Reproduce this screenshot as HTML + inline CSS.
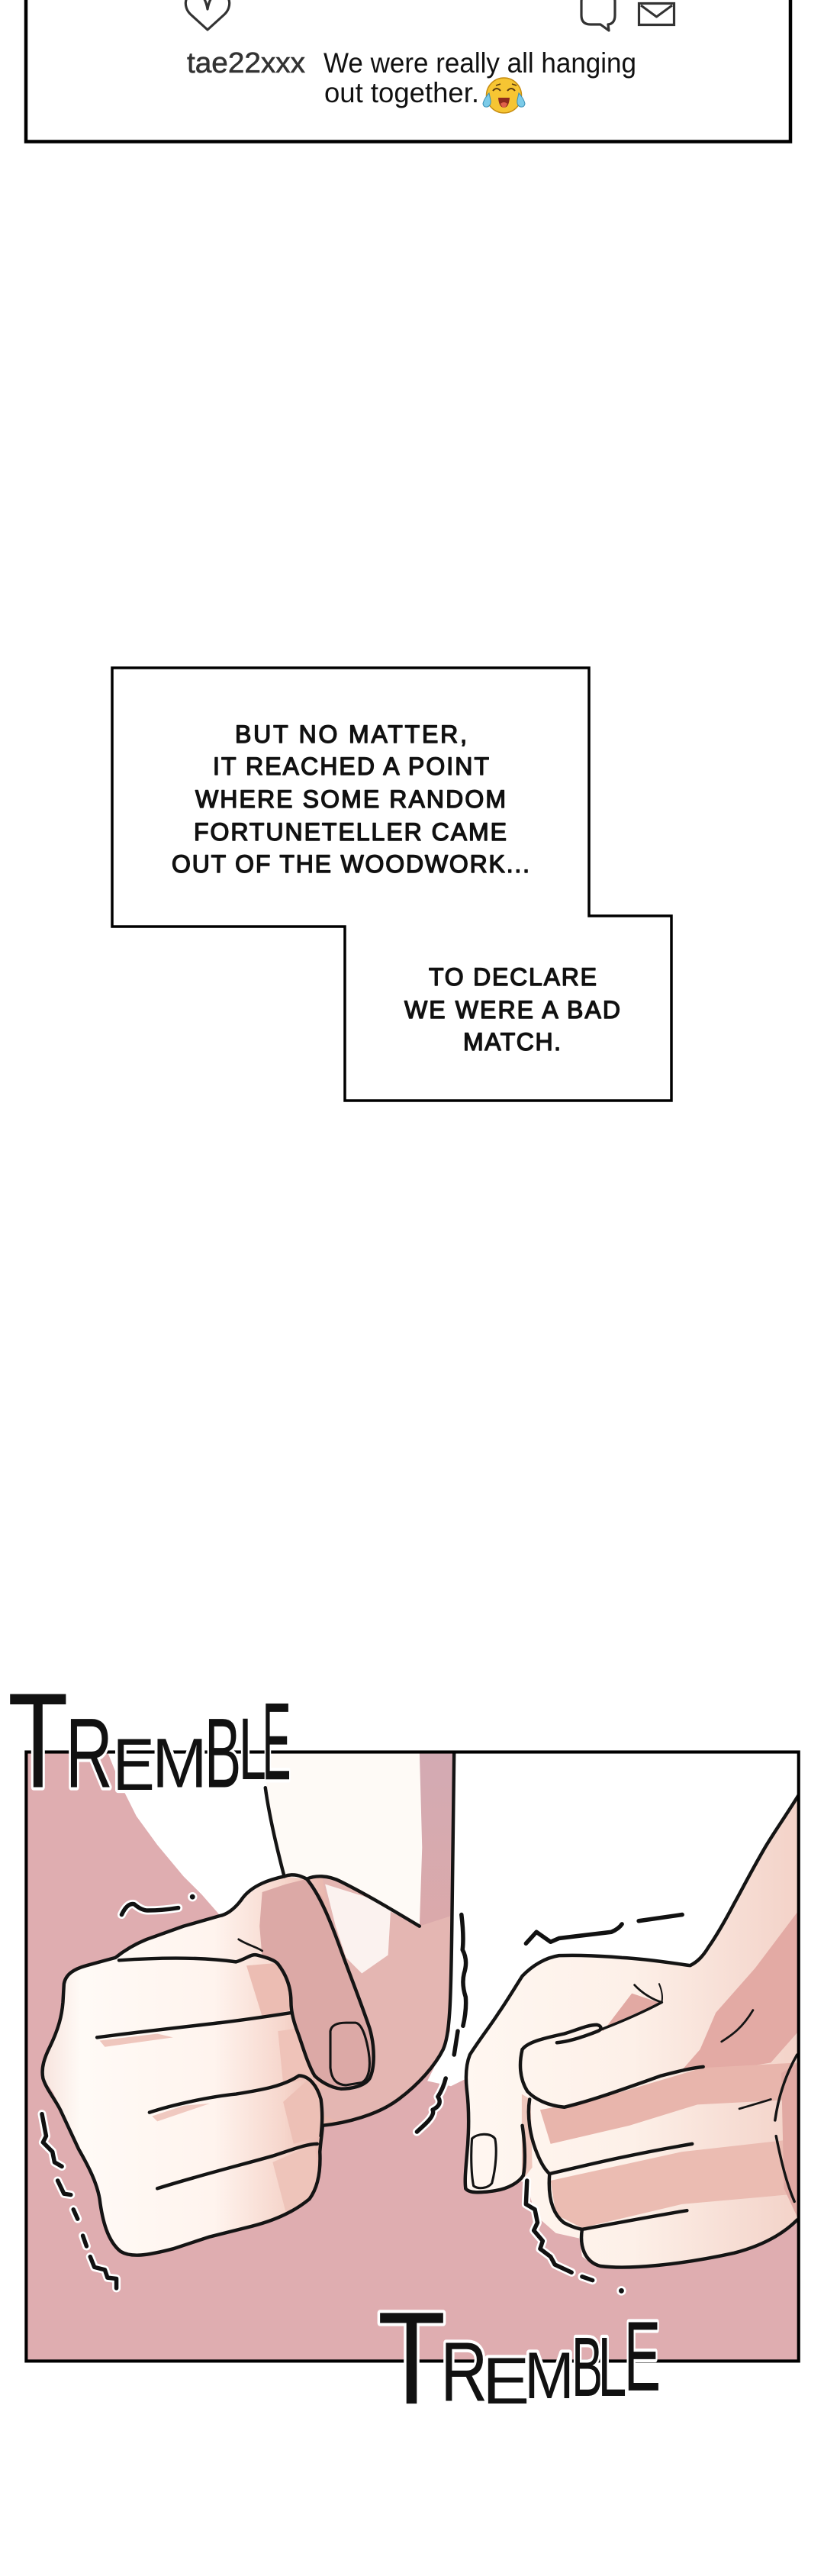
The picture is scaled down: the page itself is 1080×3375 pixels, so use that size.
<!DOCTYPE html>
<html>
<head>
<meta charset="utf-8">
<style>
html,body{margin:0;padding:0;background:#fff;}
body{width:1080px;height:3375px;overflow:hidden;position:relative;}
svg{position:absolute;left:0;top:0;display:block;}
</style>
</head>
<body>
<svg width="1080" height="3375" viewBox="0 0 1080 3375" xmlns="http://www.w3.org/2000/svg" font-family="'Liberation Sans', sans-serif">
<defs>
  <linearGradient id="fistg" x1="90" y1="0" x2="620" y2="0" gradientUnits="userSpaceOnUse">
    <stop offset="0" stop-color="#f8e6e0"/>
    <stop offset="0.12" stop-color="#fffaf6"/>
    <stop offset="0.6" stop-color="#fff4ee"/>
    <stop offset="0.85" stop-color="#f6d6cc"/>
    <stop offset="1" stop-color="#e9b7ae"/>
  </linearGradient>
  <linearGradient id="rhg" x1="890" y1="0" x2="1523" y2="0" gradientUnits="userSpaceOnUse">
    <stop offset="0" stop-color="#fff7f1"/>
    <stop offset="0.5" stop-color="#fdf0e8"/>
    <stop offset="1" stop-color="#f3d2c8"/>
  </linearGradient>
  <linearGradient id="mauveg" x1="0" y1="168" x2="0" y2="560" gradientUnits="userSpaceOnUse">
    <stop offset="0" stop-color="#d3aab3"/>
    <stop offset="1" stop-color="#dca9a9"/>
  </linearGradient>
  <clipPath id="pc"><rect x="50" y="168" width="1473" height="1161"/></clipPath>
</defs>

<!-- ===== TOP POST PANEL ===== -->
<path d="M34,-5 V185.5 H1036 V-5" fill="none" stroke="#000" stroke-width="4.5"/>
<!-- heart -->
<path d="M272,39 L250,19 C239,9 242,-9 256,-9 C265,-9 270,0 272,12 C274,0 279,-9 288,-9 C302,-9 305,9 294,19 Z" fill="none" stroke="#333" stroke-width="3.2" stroke-linejoin="round"/>
<!-- chat bubble -->
<path d="M774,-10 H794 Q806,-10 806,2 V20 Q806,31 797,32 L798,40 L787,32 H774 Q762,32 762,20 V2 Q762,-10 774,-10 Z" fill="none" stroke="#333" stroke-width="3.2" stroke-linejoin="round"/>
<!-- mail -->
<rect x="837.5" y="4.5" width="46" height="28" fill="none" stroke="#333" stroke-width="3.2"/>
<path d="M840,7 L860.5,22 L881,7" fill="none" stroke="#333" stroke-width="3" stroke-linejoin="round"/>
<!-- post text -->
<text x="245" y="95" font-size="38" fill="#333" stroke="#333" stroke-width="0.6" textLength="155" lengthAdjust="spacingAndGlyphs">tae22xxx</text>
<text x="424" y="95" font-size="37" fill="#111" textLength="410" lengthAdjust="spacingAndGlyphs">We were really all hanging</text>
<text x="425" y="134" font-size="37" fill="#111" textLength="203" lengthAdjust="spacingAndGlyphs">out together.</text>
<!-- emoji -->
<g>
  <circle cx="660.5" cy="125" r="23" fill="#f6c533" stroke="#c78d12" stroke-width="1.5"/>
  <path d="M646,119 Q651,113 656,119" fill="none" stroke="#5a3a10" stroke-width="2"/>
  <path d="M665,119 Q670,113 675,119" fill="none" stroke="#5a3a10" stroke-width="2"/>
  <path d="M650,112 L656,110 M671,110 L677,112" stroke="#5a3a10" stroke-width="1.5"/>
  <path d="M653,128 L668,128 Q667,141 660.5,141 Q654,141 653,128 Z" fill="#8e2a1c"/>
  <path d="M656,136 Q660.5,132 665,136 Q663,141 660.5,141 Q658,141 656,136 Z" fill="#e0604a"/>
  <path d="M641,122 Q634,130 633,136 Q634,141 639,140 Q644,138 643,131 Z" fill="#7ccbe8" stroke="#3a8fb5" stroke-width="1"/>
  <path d="M680,122 Q687,130 688,136 Q687,141 682,140 Q677,138 678,131 Z" fill="#7ccbe8" stroke="#3a8fb5" stroke-width="1"/>
</g>

<!-- ===== CAPTION BOXES ===== -->
<path d="M147,875 H772 V1200 H880 V1442 H452 V1214 H147 Z" fill="#fff" stroke="#000" stroke-width="3.5" stroke-linejoin="miter"/>
<g font-size="32" fill="#111" stroke="#111" stroke-width="1.4" stroke-linejoin="round">
  <text x="308" y="973" textLength="304">BUT NO MATTER,</text>
  <text x="279" y="1015" textLength="362">IT REACHED A POINT</text>
  <text x="256" y="1058" textLength="407">WHERE SOME RANDOM</text>
  <text x="254" y="1101" textLength="410">FORTUNETELLER CAME</text>
  <text x="225" y="1143" textLength="469">OUT OF THE WOODWORK...</text>
  <text x="562" y="1291" textLength="220">TO DECLARE</text>
  <text x="530" y="1334" textLength="283">WE WERE A BAD</text>
  <text x="607" y="1376" textLength="128">MATCH.</text>
</g>

<!-- ===== HANDS PANEL (zoomed coordinate space) ===== -->
<g transform="translate(0,2180) scale(0.6873)">
  <g clip-path="url(#pc)">
    <rect x="50" y="168" width="1473" height="1161" fill="#dfadb0"/>
    <!-- white band top-left -->
    <polygon points="205,168 505,168 510,240 522,310 537,370 542,405 500,420 465,445 440,470 420,480 385,440 350,405 300,345 260,290 230,230" fill="#ffffff"/>
    <!-- top-right white -->
    <polygon points="866,168 1523,168 1523,255 1456,355 1401,455 1351,540 1316,575 1186,560 1066,556 1021,570 996,595 951,665 896,745 890,790 860,805 815,795 845,735 858,700 862,480" fill="#ffffff"/>
    <!-- forearm -->
    <polygon points="505,168 866,168 862,480 800,500 750,475 700,445 650,415 615,405 585,410 542,405 537,370 522,310 510,240" fill="#fefaf6"/>
    <polygon points="800,168 866,168 862,540 840,520 800,500 805,350" fill="url(#mauveg)"/>
    <!-- right hand -->
    <polygon points="1523,255 1456,355 1401,455 1351,540 1316,575 1186,560 1066,556 1021,570 996,595 951,665 896,745 890,790 893,870 888,950 888,1000 910,1008 950,1003 990,985 1005,990 1020,1050 1060,1085 1105,1095 1110,1130 1140,1150 1200,1153 1300,1143 1400,1122 1480,1093 1523,1060" fill="url(#rhg)"/>
    <polygon points="1523,470 1440,580 1365,665 1335,735 1300,775 1400,772 1470,760 1523,700" fill="#e3aaa4"/>
    <polygon points="1030,850 1130,832 1340,770 1523,760 1523,830 1330,840 1200,880 1050,915" fill="#e8b5ac"/>
    <polygon points="1050,985 1300,930 1523,905 1523,1010 1300,1030 1110,1075 1060,1050" fill="#ebbcb2"/>
    <polygon points="1150,700 1205,628 1258,646 1146,696" fill="#e2a9a3"/>
    <polygon points="995,820 1012,830 1015,960 995,985" fill="#efc7bd"/>
    <polygon points="1490,780 1523,760 1523,1060 1495,1000" fill="#e1a9a3"/>
    <!-- left fist -->
    <polygon points="542,405 500,420 465,445 440,470 420,480 350,500 280,525 240,545 220,560 165,575 130,590 122,605 120,645 112,695 95,730 80,765 82,790 100,815 115,845 130,885 150,925 172,962 188,1010 200,1070 225,1115 260,1130 330,1115 400,1092 480,1072 545,1050 590,1020 608,985 612,930 615,880 700,865 760,830 820,770 845,735 858,700 862,480 800,500 750,475 700,445 650,415 615,405 585,410" fill="url(#fistg)"/>
    <polygon points="615,405 650,415 700,445 750,475 800,500 862,480 858,700 845,735 820,770 760,830 700,865 640,870 615,860 612,810 690,805 710,775 712,745 705,695 685,645 670,595 650,545 630,495" fill="#e4b6b2"/>
    <polygon points="620,420 700,445 745,470 740,555 690,590 660,560 640,500" fill="#fbf2ef"/>
    <polygon points="500,435 545,420 585,410 615,445 630,495 650,545 670,595 685,645 705,695 712,745 705,790 685,805 650,810 625,805 600,785 580,745 565,695 555,665 555,645 550,605 530,570 500,560 495,500" fill="#dca9a6"/>
    <polygon points="470,575 530,570 550,605 555,660 500,672" fill="#ecbdb3"/>
    <polygon points="530,700 565,695 580,745 600,790 540,800" fill="#efc3b9"/>
    <polygon points="540,835 590,790 610,820 612,900 560,915" fill="#edc0b6"/>
    <polygon points="520,950 600,915 608,985 590,1020 545,1045" fill="#eec4ba"/>
    <polygon points="190,718 300,705 330,712 200,730" fill="#efc6bd"/>
    <polygon points="290,862 350,842 400,838 300,872" fill="#f0c9c0"/>

    <!-- outlines -->
    <g fill="none" stroke="#141414" stroke-width="6.5" stroke-linecap="round" stroke-linejoin="round">
      <path d="M542,405 C520,410 480,420 460,450 C445,470 430,478 420,480 L350,500 L280,525 C255,535 235,548 220,560 L165,575 C140,582 125,592 122,610 L120,645 C118,670 112,695 95,730 C85,750 78,770 82,790 C88,810 105,830 115,850 L150,925 C170,960 185,990 190,1020 C195,1060 205,1100 230,1120 C250,1132 280,1128 330,1115 L400,1092 L480,1072 C520,1062 560,1045 590,1020 C605,1000 612,970 610,930 C612,905 615,890 615,880"/>
      <path d="M615,880 C660,875 720,860 760,830 C800,800 830,765 845,735 C858,705 860,650 862,480 L866,168"/>
      <path d="M506,236 C512,280 525,340 542,405"/>
      <path d="M542,405 C560,398 575,405 585,410 C600,403 625,402 650,415 C700,440 750,470 800,500"/>
      <path d="M585,410 C610,440 630,490 650,545 C670,600 690,650 705,695 C715,730 715,770 705,790 C695,805 670,810 650,810 C630,808 610,795 600,785 C585,760 575,720 565,695 C558,675 555,660 555,645 C555,620 548,595 530,572"/>
      <path d="M227,565 C300,560 380,558 450,568 C470,562 480,552 490,555 C510,560 525,565 530,572"/>
      <path d="M455,525 C470,535 490,540 500,547" stroke-width="4"/>
      <path d="M185,712 C260,702 350,692 420,684 C470,678 510,672 555,665"/>
      <path d="M285,855 C330,840 400,825 450,820 C500,812 540,805 570,785 C590,785 605,805 612,830 C616,860 614,880 612,900"/>
      <path d="M300,1000 C380,975 460,955 520,938 C560,925 585,915 605,915"/>
      <path d="M630,700 C632,688 645,684 660,684 L678,684 C690,686 698,710 703,740 C707,765 705,790 690,798 L660,803 C640,802 632,790 630,770 Z" stroke-width="4.5"/>

      <path d="M1523,250 C1495,295 1470,330 1456,355 C1430,400 1415,430 1401,455 C1380,495 1365,520 1351,540 C1340,558 1330,568 1316,575 C1280,570 1230,562 1186,560 C1140,556 1100,555 1066,556 C1040,560 1015,575 996,595 C980,620 965,645 951,665 C935,690 915,715 896,745 C888,765 888,790 890,810 C895,850 895,890 890,940 C888,965 886,985 888,1000"/>
      <path d="M888,1000 C895,1010 920,1008 945,1004 C970,1000 990,988 998,975"/>
      <path d="M996,880 C1002,920 1002,955 998,975"/>
      <path d="M900,905 C910,895 935,893 944,905 C948,925 946,960 938,990 C930,1000 912,1002 903,995 C898,970 898,930 900,905 Z" stroke-width="4.5"/>
      <path d="M996,735 C1005,722 1030,715 1076,705 C1100,698 1120,688 1138,688 C1148,690 1148,697 1140,700 C1110,712 1085,720 1062,722"/>
      <path d="M996,735 C990,760 990,790 1006,815 C1020,830 1045,842 1076,845 C1130,832 1190,810 1261,785 C1300,775 1320,770 1341,768"/>
      <path d="M1146,697 C1190,680 1230,662 1262,645" stroke-width="5"/>
      <path d="M1210,612 C1225,628 1245,640 1262,645" stroke-width="4"/>
      <path d="M1257,610 C1262,622 1264,635 1262,645" stroke-width="3"/>
      <path d="M1010,830 C1005,860 1010,900 1025,935 C1032,952 1040,965 1048,972 C1100,960 1200,935 1320,915"/>
      <path d="M1048,972 C1045,1010 1050,1045 1075,1065 C1090,1073 1100,1076 1110,1078 C1180,1065 1260,1050 1310,1042"/>
      <path d="M1110,1078 C1105,1110 1115,1140 1145,1148 C1200,1155 1300,1145 1400,1123 C1450,1110 1490,1090 1520,1060"/>
      <path d="M1520,745 C1500,780 1485,820 1478,870" stroke-width="5"/>
      <path d="M1480,900 C1490,950 1500,990 1515,1025" stroke-width="5"/>
      <path d="M1376,720 C1395,708 1415,695 1436,660" stroke-width="4"/>
      <path d="M1410,848 C1430,842 1455,835 1470,830" stroke-width="4"/>
    </g>
  </g>
  <!-- panel border -->
  <rect x="50" y="168" width="1473" height="1161" fill="none" stroke="#000" stroke-width="6"/>

  <!-- tremble marks -->
  <g fill="none" stroke-linecap="round" stroke-linejoin="round">
    <g stroke="#fff" stroke-width="16">
      <path d="M232,478 Q243,455 256,458 Q270,470 282,470 Q310,470 340,465"/>
      <path d="M80,858 L88,900 L82,912 L100,930 L104,950 L118,958 M110,985 L122,1010 L135,1012 M140,1040 L148,1058 M158,1090 L165,1110 M172,1130 L180,1150 L200,1155 L205,1170 L222,1172 L222,1190"/>
      <path d="M880,478 Q885,520 882,545 Q893,565 885,590 Q880,610 888,635 Q890,660 883,690 M873,700 L866,745 M850,790 Q845,810 835,825 Q845,840 825,850 Q830,860 808,880 L795,892"/>
      <path d="M1003,533 L1023,511 L1050,530 L1066,523 L1166,511 Q1180,505 1186,496 M1218,490 L1301,478"/>
      <path d="M1005,985 L1003,1030 L1020,1040 L1025,1065 L1018,1080 L1035,1100 L1030,1115 L1050,1130 L1058,1145 L1090,1160 M1110,1168 L1130,1175"/>
    </g>
    <g stroke="#111" stroke-width="8">
      <path d="M232,478 Q243,455 256,458 Q270,470 282,470 Q310,470 340,465"/>
      <path d="M80,858 L88,900 L82,912 L100,930 L104,950 L118,958 M110,985 L122,1010 L135,1012 M140,1040 L148,1058 M158,1090 L165,1110 M172,1130 L180,1150 L200,1155 L205,1170 L222,1172 L222,1190"/>
      <path d="M880,478 Q885,520 882,545 Q893,565 885,590 Q880,610 888,635 Q890,660 883,690 M873,700 L866,745 M850,790 Q845,810 835,825 Q845,840 825,850 Q830,860 808,880 L795,892"/>
      <path d="M1003,533 L1023,511 L1050,530 L1066,523 L1166,511 Q1180,505 1186,496 M1218,490 L1301,478"/>
      <path d="M1005,985 L1003,1030 L1020,1040 L1025,1065 L1018,1080 L1035,1100 L1030,1115 L1050,1130 L1058,1145 L1090,1160 M1110,1168 L1130,1175"/>
    </g>
  </g>
  <circle cx="367" cy="444" r="7" fill="#111" stroke="#fff" stroke-width="4"/>
  <circle cx="1185" cy="1195" r="7" fill="#111" stroke="#fff" stroke-width="4"/>

  <!-- TREMBLE sound effects -->
  <g fill="#111" stroke="#fff" stroke-width="12" paint-order="stroke" stroke-linejoin="round">
    <text x="15" y="235" font-size="258" textLength="115" lengthAdjust="spacingAndGlyphs">T</text>
    <text x="125" y="235" font-size="189" textLength="90" lengthAdjust="spacingAndGlyphs">R</text>
    <text x="215" y="240" font-size="140" textLength="80" lengthAdjust="spacingAndGlyphs">E</text>
    <text x="290" y="235" font-size="133" textLength="105" lengthAdjust="spacingAndGlyphs">M</text>
    <text x="390" y="235" font-size="189" textLength="70" lengthAdjust="spacingAndGlyphs">B</text>
    <text x="455" y="220" font-size="168" textLength="55" lengthAdjust="spacingAndGlyphs">L</text>
    <text x="500" y="220" font-size="210" textLength="55" lengthAdjust="spacingAndGlyphs">E</text>

    <text x="720" y="1410" font-size="251" textLength="130" lengthAdjust="spacingAndGlyphs">T</text>
    <text x="840" y="1405" font-size="161" textLength="90" lengthAdjust="spacingAndGlyphs">R</text>
    <text x="920" y="1410" font-size="126" textLength="90" lengthAdjust="spacingAndGlyphs">E</text>
    <text x="1000" y="1400" font-size="126" textLength="95" lengthAdjust="spacingAndGlyphs">M</text>
    <text x="1090" y="1395" font-size="161" textLength="60" lengthAdjust="spacingAndGlyphs">B</text>
    <text x="1140" y="1395" font-size="161" textLength="55" lengthAdjust="spacingAndGlyphs">L</text>
    <text x="1190" y="1385" font-size="189" textLength="70" lengthAdjust="spacingAndGlyphs">E</text>
  </g>
</g>
</svg>
</body>
</html>
